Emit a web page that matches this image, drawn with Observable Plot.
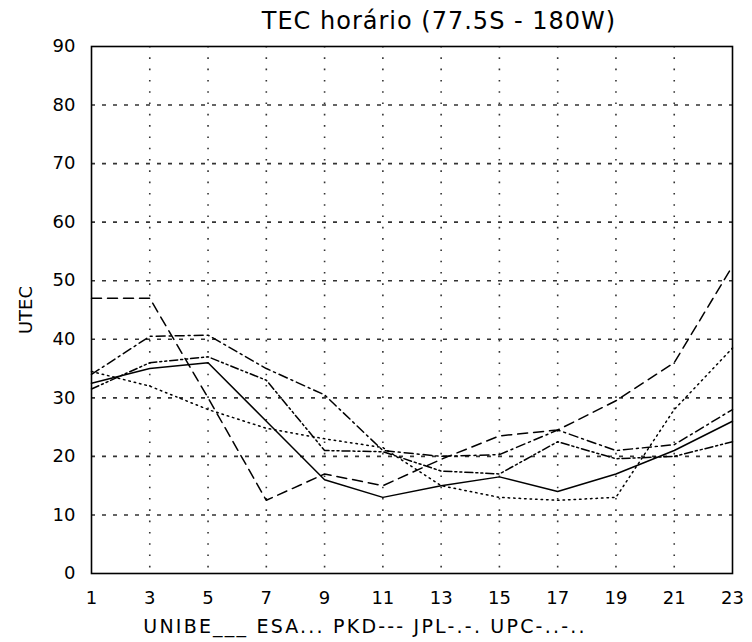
<!DOCTYPE html>
<html>
<head>
<meta charset="utf-8">
<script src="https://cdn.jsdelivr.net/npm/d3@7"></script>
<script src="https://cdn.jsdelivr.net/npm/@observablehq/plot@0.6"></script>
<style>
  html, body { margin: 0; padding: 0; background: #fff; }
  body { width: 752px; height: 642px; overflow: hidden; font-family: "DejaVu Sans", sans-serif; color: #000; }
  #title { height: 36px; line-height: 42px; text-align: center; font-size: 24px; padding-left: 126px; letter-spacing: 1px; }
  #legend { height: 29px; line-height: 26px; text-align: center; font-size: 19px; padding-right: 22px; letter-spacing: 2.2px; }
</style>
</head>
<body>
<div id="title">TEC horário (77.5S - 180W)</div>
<div id="chart"></div>
<div id="legend">UNIBE___ ESA... PKD--- JPL-.-. UPC-..-..</div>
<script>
const hours = [1, 3, 5, 7, 9, 11, 13, 15, 17, 19, 21, 23];
const unibe = [32.5, 35, 36, 26, 16, 13, 15, 16.5, 14, 17, 21, 26];
const esa   = [34.5, 32, 28, 24.8, 23, 21.5, 15, 13, 12.5, 13, 28, 38.5];
const pkd   = [47, 47, 30, 12.5, 17, 15, 19.5, 23.5, 24.5, 29.5, 36, 52.5];
const jpl   = [34, 40.5, 40.7, 35, 30.5, 21, 20, 20.3, 24.5, 21, 22, 28];
const upc   = [31.5, 36, 37, 33, 21, 20.8, 17.5, 17, 22.5, 19.6, 20, 22.5];
const seriesNames = ["UNIBE", "ESA", "PKD", "JPL", "UPC"];
const seriesValues = [unibe, esa, pkd, jpl, upc];
const dashes = ["none", "1.5,4", "10,6", "9,4,2,4", "8,3,2,3,2,3"];
const xTicks = [1, 3, 5, 7, 9, 11, 13, 15, 17, 19, 21, 23];
const yTicks = [0, 10, 20, 30, 40, 50, 60, 70, 80, 90];
const xGrid = [3, 5, 7, 9, 11, 13, 15, 17, 19, 21];
const yGrid = [10, 20, 30, 40, 50, 60, 70, 80];

const data = seriesNames.flatMap((name, i) =>
  hours.map((h, j) => ({series: name, hour: h, value: seriesValues[i][j]})));

const font = '"DejaVu Sans", sans-serif';
const chart = Plot.plot({
  width: 752,
  height: 577,
  marginLeft: 91,
  marginRight: 20,
  marginTop: 10,
  marginBottom: 40,
  style: {fontFamily: font, fontSize: "17px", background: "#fff", color: "#000", overflow: "visible"},
  x: {domain: [1, 23]},
  y: {domain: [0, 90]},
  marks: [
    Plot.ruleY(yGrid, {stroke: "#333", strokeWidth: 1.6, strokeDasharray: "4,7"}),
    Plot.ruleX(xGrid, {stroke: "#333", strokeWidth: 1.6, strokeDasharray: "1.6,9.7"}),
    ...seriesNames.map((name, i) =>
      Plot.line(data.filter(d => d.series === name), {
        x: "hour", y: "value", stroke: "#000", strokeWidth: 1.5,
        strokeDasharray: dashes[i]
      })),
    Plot.frame({stroke: "#000", strokeWidth: 1.6}),
    Plot.axisX({ticks: xTicks, tickSize: 0, tickPadding: 18, fontSize: 18, label: null}),
    Plot.axisY({ticks: yTicks, tickSize: 0, tickPadding: 16, fontSize: 18,
      label: "UTEC", labelAnchor: "center", labelArrow: "none", labelOffset: 72})
  ]
});
document.getElementById("chart").appendChild(chart);
</script>
</body>
</html>
